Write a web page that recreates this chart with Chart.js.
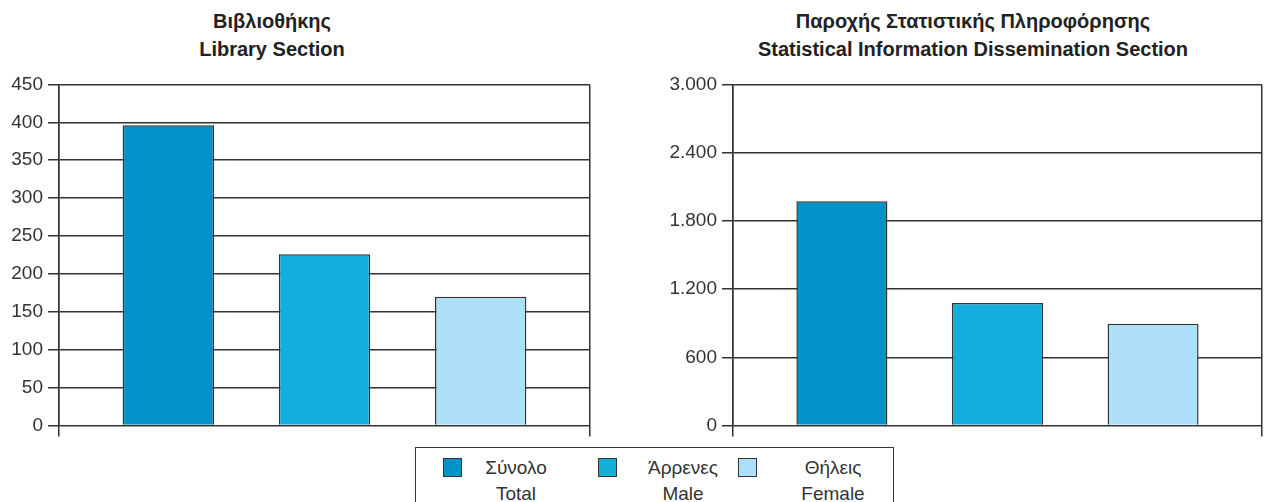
<!DOCTYPE html>
<html>
<head>
<meta charset="utf-8">
<script src="https://cdn.jsdelivr.net/npm/chart.js@4/dist/chart.umd.min.js"></script>
<style>
body{margin:0;background:#fff;font-family:"Liberation Sans",Arial,sans-serif;color:#333}
#wrap{position:relative;width:1264px;height:502px;overflow:hidden}
.ttl{position:absolute;top:7px;width:600px;text-align:center;font-weight:bold;font-size:20px;line-height:28px;color:#222}
.cv{position:absolute}
#legend{position:absolute;left:415px;top:447px;width:479px;height:80px;border:1px solid #333;box-sizing:border-box}
.sw{position:absolute;top:10px;width:19px;height:19px;border:1px solid #333;box-sizing:border-box}
.lt{position:absolute;top:7px;width:110px;text-align:center;font-size:19px;line-height:26px;color:#333}
</style>
</head>
<body>
<div id="wrap">
  <div class="ttl" style="left:-28px">Βιβλιοθήκης<br>Library Section</div>
  <div class="ttl" style="left:673px">Παροχής Στατιστικής Πληροφόρησης<br>Statistical Information Dissemination Section</div>
  <div class="cv" style="left:0;top:68px;width:592px;height:374px"><canvas id="chartLib"></canvas></div>
  <div class="cv" style="left:653px;top:68px;width:611px;height:374px"><canvas id="chartStat"></canvas></div>
  <div id="legend"></div>
</div>
<script>
const categories=['Σύνολο|Total','Άρρενες|Male','Θήλεις|Female'];
const colors=['#0392c8','#14aedd','#aedff8'];
const libraryValues=[396,226,170];
const statValues=[1972,1077,895];
const libraryTicks={min:0,max:450,step:50};
const statTicks={min:0,max:3000,step:600};

const INK='#333';

function fmt(v){return String(v).replace(/\B(?=(\d{3})+(?!\d))/g,'.');}

function bars(id,values,t,yWidth){
  const ctx=document.getElementById(id);
  return new Chart(ctx,{type:'bar',
    data:{datasets:[{data:values.map((v,i)=>({x:i,y:v})),
      backgroundColor:colors,borderColor:INK,borderWidth:1.5,
      barPercentage:0.585,categoryPercentage:1}]},
    options:{responsive:true,maintainAspectRatio:false,animation:false,
      layout:{padding:{right:2,top:0,left:0,bottom:0}},
      plugins:{legend:{display:false},tooltip:{enabled:false}},
      scales:{
        x:{type:'linear',offset:false,min:-0.7,max:categories.length-0.3,
           afterBuildTicks:s=>{s.ticks=[{value:s.min},{value:s.max}];},
           afterFit:s=>{s.height=12;},
           ticks:{display:false},border:{display:false},
           grid:{offset:false,color:INK,lineWidth:1.5,drawTicks:true,tickLength:11}},
        y:{min:t.min,max:t.max,
           afterFit:s=>{s.width=yWidth;},
           ticks:{stepSize:t.step,color:INK,padding:5,callback:fmt,
                  font:{family:'"Liberation Sans", Arial, sans-serif',size:19}},
           border:{display:true,color:INK,width:1.5},
           grid:{color:INK,lineWidth:1.5,drawTicks:true,tickLength:11}}
      }}});
}

bars('chartLib',libraryValues,libraryTicks,59);
bars('chartStat',statValues,statTicks,80);

const lg=document.getElementById('legend');
const swX=[27,182,322],txX=[45,212,362];
categories.forEach((c,i)=>{
  const [gr,en]=c.split('|');
  const s=document.createElement('div');s.className='sw';s.style.left=swX[i]+'px';s.style.background=colors[i];lg.appendChild(s);
  const t=document.createElement('div');t.className='lt';t.style.left=txX[i]+'px';t.innerHTML=gr+'<br>'+en;lg.appendChild(t);
});
</script>
</body>
</html>
